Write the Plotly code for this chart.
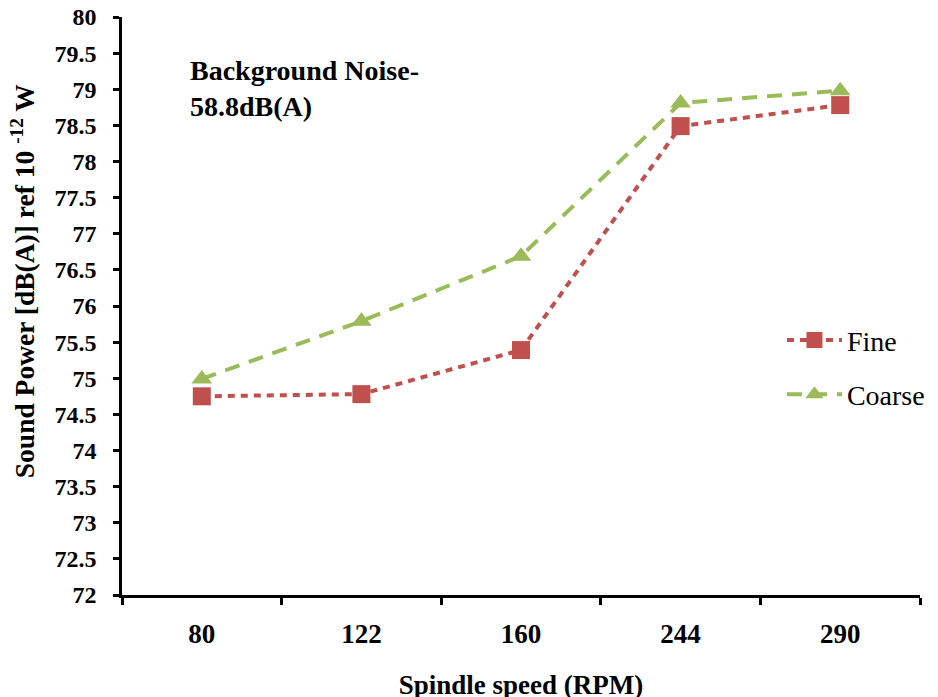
import plotly.graph_objects as go

categories = ["80", "122", "160", "244", "290"]
fine = [74.75, 74.78, 75.39, 78.49, 78.78]
coarse = [74.99, 75.79, 76.69, 78.81, 78.98]
y_ticks = [72 + 0.5 * i for i in range(17)]
y_tick_labels = [f"{v:g}" for v in y_ticks]

FONT = "Liberation Serif"

fig = go.Figure()
fig.add_trace(go.Scatter(
    x=categories, y=fine, name="Fine", mode="lines+markers",
    line=dict(color="#C0504D", width=4, dash="7px,6px"),
    marker=dict(symbol="square", size=18, color="#C0504D"),
    legendgroup="a",
))
fig.add_trace(go.Scatter(
    x=categories, y=coarse, name="Coarse", mode="lines+markers",
    line=dict(color="#9BBB59", width=4, dash="15px,10px"),
    marker=dict(symbol="triangle-up", size=18, color="#9BBB59"),
    legendgroup="b",
))

fig.add_annotation(
    text="<b>Background Noise-<br>58.8dB(A)</b>",
    x=0.0825, y=0.937, xref="paper", yref="paper",
    xanchor="left", yanchor="top", align="left", showarrow=False,
    font=dict(family=FONT, size=28, color="black"),
)

fig.add_annotation(
    text="<b>Sound Power [dB(A)] ref 10 <sup>-12</sup> W</b>",
    x=-0.124, y=0.543, xref="paper", yref="paper",
    xanchor="center", yanchor="middle", textangle=-90, showarrow=False,
    font=dict(family=FONT, size=27.5, color="black"),
)

fig.update_layout(
    width=938, height=697,
    margin=dict(l=114, r=26, t=9, b=110),
    paper_bgcolor="white", plot_bgcolor="white",
    font=dict(family=FONT, color="black"),
    legend=dict(
        x=0.827, y=0.484, xanchor="left", yanchor="top",
        font=dict(family=FONT, size=28), tracegroupgap=15, itemwidth=55,
        bgcolor="rgba(0,0,0,0)",
    ),
    xaxis=dict(
        type="category", range=[-0.5, 4.5], automargin=False,
        showline=True, linecolor="black", linewidth=2.5,
        ticks="outside", tickson="boundaries", ticklen=7, tickwidth=2.5, tickcolor="black",
        showgrid=False, zeroline=False, ticklabelstandoff=13,
        tickfont=dict(family=FONT, size=27, color="black", weight="bold"),
        title=dict(text="<b>Spindle speed (RPM)</b>", font=dict(family=FONT, size=27), standoff=27),
    ),
    yaxis=dict(
        range=[72, 80], tickvals=y_ticks, ticktext=y_tick_labels, automargin=False,
        showline=True, linecolor="black", linewidth=2.5,
        ticks="outside", ticklen=6, tickwidth=2.5, tickcolor="black",
        showgrid=False, zeroline=False, ticklabelstandoff=12, ticklabeloverflow="allow",
        tickfont=dict(family=FONT, size=24, color="black", weight="bold"),
    ),
)

fig.write_html("out.html")
